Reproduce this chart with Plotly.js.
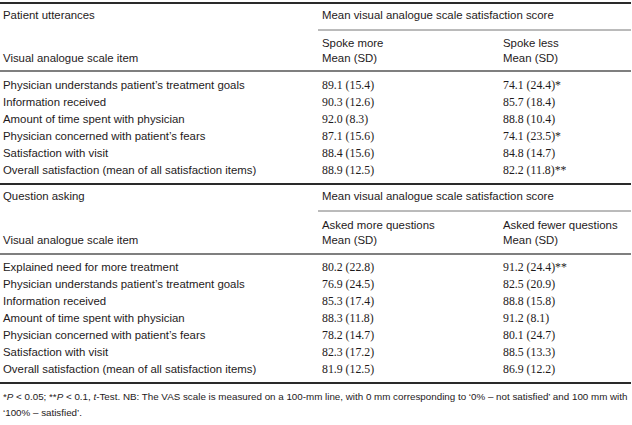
<!DOCTYPE html>
<html>
<head>
<meta charset="utf-8">
<script src="https://cdn.plot.ly/plotly-3.0.1.min.js"></script>
<style>html,body{margin:0;padding:0;background:#fff;}#chart{width:632px;height:425px;}</style>
</head>
<body>
<div id="chart"></div>
<script>
// ---- Section 1: patient utterances ----
const section1Title = "Patient utterances";
const groupHeader = "Mean visual analogue scale satisfaction score";
const itemHeader = "Visual analogue scale item";
const section1Cols = ["Spoke more", "Spoke less"];
const statHeader = "Mean (SD)";
const section1Items = [
  "Physician understands patient\u2019s treatment goals",
  "Information received",
  "Amount of time spent with physician",
  "Physician concerned with patient\u2019s fears",
  "Satisfaction with visit",
  "Overall satisfaction (mean of all satisfaction items)"
];
const spokeMoreMean = [89.1, 90.3, 92.0, 87.1, 88.4, 88.9];
const spokeMoreSD   = [15.4, 12.6, 8.3, 15.6, 15.6, 12.5];
const spokeLessMean = [74.1, 85.7, 88.8, 74.1, 84.8, 82.2];
const spokeLessSD   = [24.4, 18.4, 10.4, 23.5, 14.7, 11.8];
const spokeLessSig  = ["*", "", "", "*", "", "**"];

// ---- Section 2: question asking ----
const section2Title = "Question asking";
const section2Cols = ["Asked more questions", "Asked fewer questions"];
const section2Items = [
  "Explained need for more treatment",
  "Physician understands patient\u2019s treatment goals",
  "Information received",
  "Amount of time spent with physician",
  "Physician concerned with patient\u2019s fears",
  "Satisfaction with visit",
  "Overall satisfaction (mean of all satisfaction items)"
];
const askedMoreMean  = [80.2, 76.9, 85.3, 88.3, 78.2, 82.3, 81.9];
const askedMoreSD    = [22.8, 24.5, 17.4, 11.8, 14.7, 17.2, 12.5];
const askedFewerMean = [91.2, 82.5, 88.8, 91.2, 80.1, 88.5, 86.9];
const askedFewerSD   = [24.4, 20.9, 15.8, 8.1, 24.7, 13.3, 12.2];
const askedFewerSig  = ["**", "", "", "", "", "", ""];

const footnoteLines = [
  "*<i>P</i> &lt; 0.05; **<i>P</i> &lt; 0.1, <i>t</i>-Test. NB: The VAS scale is measured on a 100-mm line, with 0 mm corresponding to \u20180% \u2013 not satisfied\u2019 and 100 mm with",
  "\u2018100% \u2013 satisfied\u2019."
];

// ---- layout constants ----
const W = 632, H = 425;
const xLabel = 3, xCol1 = 322, xCol2 = 503;
const rowH = 17;
const s1 = {title: 16, sub: 44, stat: 59, first: 86, top: 3, mid: 30, hdr: 71};
const s2 = {title: 197, sub: 226, stat: 241, first: 268, top: 184, mid: 211, hdr: 254};
const bottomRule = 383;
const footY = [398, 414];

const fmt = (m, s, sig) => m.toFixed(1) + " (" + s.toFixed(1) + ")" + (sig || "");
const txtColor = "#1e1a1b";
const sansFont = {family: "Liberation Sans, Arial, sans-serif", size: 11.4, color: txtColor};
const numFont = {family: "Liberation Serif, serif", size: 11.8, color: txtColor};

function textTrace(xs, ys, texts, font) {
  return {type: "scatter", mode: "text", x: xs, y: ys, text: texts,
    textposition: "middle right", textfont: font, hoverinfo: "skip", showlegend: false, cliponaxis: false};
}

const traces = [];
// section 1 labels
const s1LabY = section1Items.map((_, i) => s1.first + i * rowH);
traces.push(textTrace(
  [xLabel, xLabel].concat(section1Items.map(() => xLabel)),
  [s1.title, s1.stat].concat(s1LabY),
  [section1Title, itemHeader].concat(section1Items), sansFont));
traces.push(textTrace(
  [xCol1, xCol1, xCol1, xCol2, xCol2],
  [s1.title, s1.sub, s1.stat, s1.sub, s1.stat],
  [groupHeader, section1Cols[0], statHeader, section1Cols[1], statHeader], sansFont));
traces.push(textTrace(s1LabY.map(() => xCol1), s1LabY,
  spokeMoreMean.map((m, i) => fmt(m, spokeMoreSD[i])), numFont));
traces.push(textTrace(s1LabY.map(() => xCol2), s1LabY,
  spokeLessMean.map((m, i) => fmt(m, spokeLessSD[i], spokeLessSig[i])), numFont));

// section 2
const s2LabY = section2Items.map((_, i) => s2.first + i * rowH);
traces.push(textTrace(
  [xLabel, xLabel].concat(section2Items.map(() => xLabel)),
  [s2.title, s2.stat].concat(s2LabY),
  [section2Title, itemHeader].concat(section2Items), sansFont));
traces.push(textTrace(
  [xCol1, xCol1, xCol1, xCol2, xCol2],
  [s2.title, s2.sub, s2.stat, s2.sub, s2.stat],
  [groupHeader, section2Cols[0], statHeader, section2Cols[1], statHeader], sansFont));
traces.push(textTrace(s2LabY.map(() => xCol1), s2LabY,
  askedMoreMean.map((m, i) => fmt(m, askedMoreSD[i])), numFont));
traces.push(textTrace(s2LabY.map(() => xCol2), s2LabY,
  askedFewerMean.map((m, i) => fmt(m, askedFewerSD[i], askedFewerSig[i])), numFont));

// footnote
traces.push(textTrace([xLabel, xLabel], footY, footnoteLines,
  {family: "Liberation Sans, Arial, sans-serif", size: 9.8, color: txtColor}));

function hline(y, x0, x1, w, c) {
  return {type: "line", xref: "x", yref: "y", x0: x0, x1: x1, y0: y, y1: y, line: {color: c, width: w}};
}
const shapes = [
  hline(s1.top, 0, 631, 2, "#2a2a2a"),
  hline(s1.mid, 318, 631, 1, "#777"),
  hline(s1.hdr, 0, 631, 1.5, "#555"),
  hline(s2.top, 0, 631, 2, "#2a2a2a"),
  hline(s2.mid, 318, 631, 1, "#777"),
  hline(s2.hdr, 0, 631, 1.5, "#555"),
  hline(bottomRule, 0, 631, 2, "#2a2a2a")
];

const layout = {
  width: W, height: H,
  margin: {l: 0, r: 0, t: 0, b: 0},
  paper_bgcolor: "#fff", plot_bgcolor: "#fff",
  xaxis: {range: [0, W], visible: false, fixedrange: true},
  yaxis: {range: [H, 0], visible: false, fixedrange: true},
  shapes: shapes,
  showlegend: false
};
Plotly.newPlot("chart", traces, layout, {staticPlot: true, displayModeBar: false});
</script>
</body>
</html>
